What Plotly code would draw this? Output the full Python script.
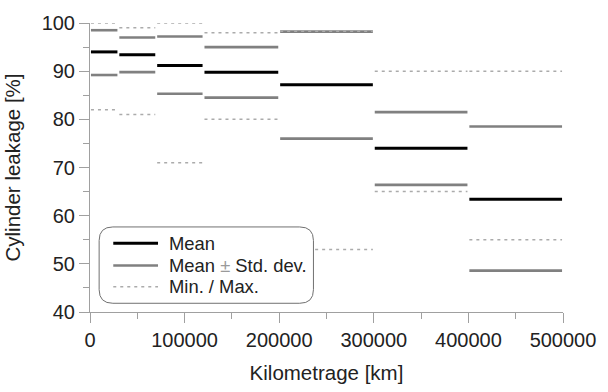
import plotly.graph_objects as go

# Bin edges (km) and statistics per bin
edges = [0, 30000, 70000, 120000, 200000, 300000, 400000, 500000]
mean_vals = [94.0, 93.4, 91.2, 89.8, 87.2, 74.0, 63.4]
sd_upper = [98.5, 97.0, 97.2, 95.0, 98.2, 81.5, 78.5]
sd_lower = [89.2, 89.8, 85.3, 84.5, 76.0, 66.4, 48.6]
max_vals = [100.0, 99.0, 100.0, 98.0, 98.3, 90.0, 90.0]
min_vals = [82.0, 81.0, 71.0, 80.0, 53.0, 65.0, 55.0]

x_ticks = [0, 100000, 200000, 300000, 400000, 500000]
y_ticks = [40, 50, 60, 70, 80, 90, 100]

legend_labels = ["Mean", 'Mean <span style="color:#9a9a9a">±</span> Std. dev.', "Min. / Max."]

GAP = 1000  # small visual gap between adjacent bins


def segments(*series):
    xs, ys = [], []
    for vals in series:
        for i, v in enumerate(vals):
            xs += [edges[i] + GAP, edges[i + 1] - GAP, None]
            ys += [v, v, None]
    return xs, ys


FONT = "Liberation Sans, Arial, sans-serif"
styles = [dict(color="#000000", width=3),
          dict(color="#808080", width=2.6),
          dict(color="#ababab", width=1.5, dash="3px,4px")]

fig = go.Figure()
data_sets = [(mean_vals,), (sd_upper, sd_lower), (max_vals, min_vals)]
for label, ds, st in zip(legend_labels, data_sets, styles):
    xx, yy = segments(*ds)
    fig.add_trace(go.Scatter(x=xx, y=yy, mode="lines", name=label, line=st,
                             showlegend=False))

# rounded legend frame (paper coordinates)
x0, x1, y0, y1 = 0.0193, 0.4724, 0.0302, 0.2943
rx, ry = 14 / 482, 14 / 298
path = (f"M{x0+rx},{y0} L{x1-rx},{y0} Q{x1},{y0} {x1},{y0+ry} "
        f"L{x1},{y1-ry} Q{x1},{y1} {x1-rx},{y1} L{x0+rx},{y1} "
        f"Q{x0},{y1} {x0},{y1-ry} L{x0},{y0+ry} Q{x0},{y0} {x0+rx},{y0} Z")
fig.add_shape(type="path", path=path, xref="paper", yref="paper",
              fillcolor="white", line=dict(color="#707070", width=1), layer="above")

# legend entries
row_y = [0.2383, 0.1611, 0.0872]
for label, st, ry_ in zip(legend_labels, styles, row_y):
    fig.add_shape(type="line", xref="paper", yref="paper", x0=0.0492, x1=0.1438,
                  y0=ry_, y1=ry_, line=st, layer="above")
    fig.add_annotation(x=0.1624, y=ry_, xref="paper", yref="paper", text=label,
                       showarrow=False, xanchor="left", yanchor="middle",
                       font=dict(size=18.4, color="#222", family=FONT))

axis_common = dict(showgrid=False, zeroline=False, showline=True, linecolor="#a0a0a0",
                   linewidth=1, ticks="outside", ticklen=10, tickcolor="#a0a0a0",
                   tickfont=dict(size=20, color="#222", family=FONT))

fig.update_xaxes(range=[0, 500000], tickvals=x_ticks, tickformat="d",
                 minor=dict(dtick=50000, ticklen=6, ticks="outside", tickcolor="#a0a0a0",
                            showgrid=False),
                 title=dict(text="Kilometrage [km]", font=dict(size=20.5, color="#222", family=FONT)),
                 **axis_common)
fig.update_yaxes(range=[40, 100], tickvals=y_ticks,
                 minor=dict(dtick=5, ticklen=6, ticks="outside", tickcolor="#a0a0a0",
                            showgrid=False),
                 title=dict(text="Cylinder leakage [%]", font=dict(size=20.5, color="#222", family=FONT)),
                 **axis_common)

fig.update_layout(
    width=608, height=392,
    margin=dict(l=89, r=37, t=17, b=77),
    paper_bgcolor="white", plot_bgcolor="white",
    font=dict(family=FONT, size=18, color="#222"),
    showlegend=False,
)

fig.write_html("out.html")
